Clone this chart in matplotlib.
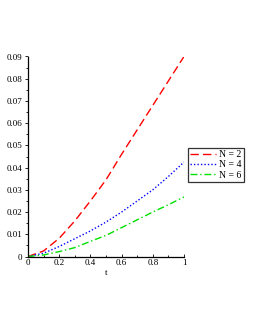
import numpy as np
import matplotlib
matplotlib.use("Agg")
import matplotlib.pyplot as plt
from matplotlib.ticker import MultipleLocator, FuncFormatter

plt.rcParams['font.family'] = ['Liberation Serif', 'DejaVu Serif']

# values
t = [0.0, 0.1, 0.2, 0.3, 0.4, 0.5, 0.6, 0.7, 0.8, 0.9, 1.0]
n2 = [0.0, 0.0025, 0.0082, 0.016, 0.025, 0.0345, 0.046, 0.057, 0.068, 0.079, 0.090]
n4 = [0.0, 0.0015, 0.0045, 0.008, 0.0115, 0.0155, 0.020, 0.025, 0.030, 0.036, 0.0425]
n6 = [0.0, 0.0007, 0.0022, 0.004, 0.0068, 0.0095, 0.013, 0.0165, 0.020, 0.0233, 0.0268]
labels = ["N = 2", "N = 4", "N = 6"]

fig = plt.figure(figsize=(2.55, 3.3), dpi=100)
ax = fig.add_axes([28 / 255, (330 - 256.5) / 330, 156 / 255, 200 / 330])

ax.plot(t, n2, color="red", ls=(0, (6, 3)), lw=1, label=labels[0])
ax.plot(t, n4, color="blue", ls=(0, (1, 1.5)), lw=1, label=labels[1])
ax.plot(t, n6, color="#00e000", ls=(0, (5, 2, 1, 2)), lw=1, label=labels[2])

ax.set_xlim(0, 1)
ax.set_ylim(0, 0.09)
ax.spines["top"].set_visible(False)
ax.spines["right"].set_visible(False)
ax.spines["left"].set_linewidth(0.9)
ax.spines["bottom"].set_linewidth(0.9)

ax.xaxis.set_major_locator(MultipleLocator(0.2))
ax.xaxis.set_minor_locator(MultipleLocator(0.1))
ax.yaxis.set_major_locator(MultipleLocator(0.01))
ax.yaxis.set_minor_locator(MultipleLocator(0.005))
fmt = FuncFormatter(lambda v, p: "0" if abs(v) < 1e-9 else ("1" if abs(v - 1) < 1e-9 else f"{v:g}"))
ax.xaxis.set_major_formatter(fmt)
ax.yaxis.set_major_formatter(fmt)
ax.tick_params(which="both", labelsize=6.5, width=0.6, pad=1.5)
ax.tick_params(axis="x", which="both", direction="in")
ax.tick_params(axis="y", which="both", direction="out")
ax.tick_params(which="major", length=2.5)
ax.tick_params(which="minor", length=1.5)

ax.set_xlabel("t", fontsize=6.5, labelpad=2)

leg = ax.legend(loc="upper left", bbox_to_anchor=(1.025, 0.545), fontsize=7,
                frameon=True, fancybox=False, edgecolor="black",
                handlelength=2.6, handletextpad=0.4, borderpad=0.25,
                labelspacing=0.15, borderaxespad=0)
leg.get_frame().set_linewidth(0.9)

fig.savefig("out.png", dpi=100)
